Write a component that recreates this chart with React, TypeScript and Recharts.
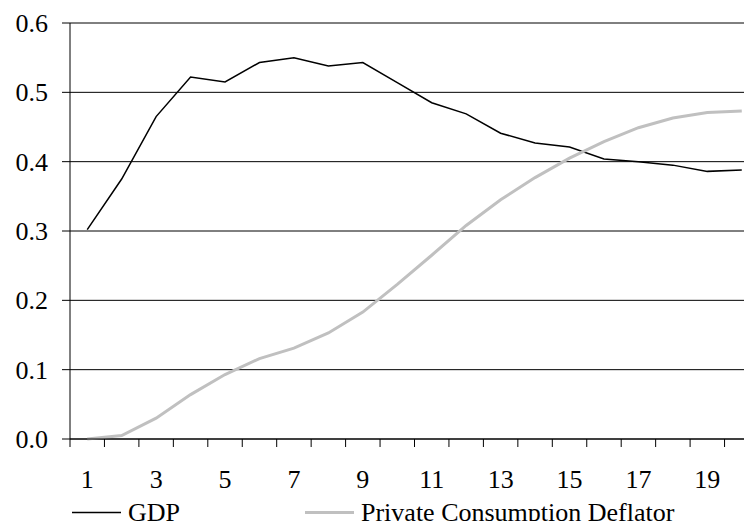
import { CartesianGrid, Legend, Line, LineChart, XAxis, YAxis } from 'recharts';

const periods = [1, 2, 3, 4, 5, 6, 7, 8, 9, 10, 11, 12, 13, 14, 15, 16, 17, 18, 19, 20];
const gdp = [
  0.302, 0.375, 0.465, 0.522, 0.515, 0.543, 0.55, 0.538, 0.543, 0.514,
  0.485, 0.469, 0.441, 0.427, 0.421, 0.404, 0.4, 0.395, 0.386, 0.388,
];
const deflator = [
  0.0, 0.005, 0.03, 0.064, 0.093, 0.116, 0.131, 0.153, 0.183, 0.223,
  0.265, 0.308, 0.345, 0.377, 0.405, 0.429, 0.449, 0.463, 0.471, 0.473,
];
const xLabels = [1, 3, 5, 7, 9, 11, 13, 15, 17, 19];
const yTicks = [0, 0.1, 0.2, 0.3, 0.4, 0.5, 0.6];

const data = periods.map((p, i) => ({ period: p, gdp: gdp[i], deflator: deflator[i] }));
// tick marks sit between categories, labels sit on them
const xTicks = [0.5, ...periods.flatMap((p) => [p, p + 0.5])];

const FONT = '"Liberation Serif", "Times New Roman", serif';
const FONT_SIZE = 26;

function XTick({ x, y, payload }: any) {
  const v = payload.value;
  if (v % 1 !== 0) {
    return <line x1={x} x2={x} y1={y} y2={y + 8} stroke="#000" />;
  }
  if (!xLabels.includes(v)) return <g />;
  return (
    <text x={x} y={y + 49} textAnchor="middle" fontFamily={FONT} fontSize={FONT_SIZE} fill="#000">
      {v}
    </text>
  );
}

function YTick({ x, y, payload }: any) {
  return (
    <text x={x} y={y + 9} textAnchor="end" fontFamily={FONT} fontSize={FONT_SIZE} fill="#000">
      {payload.value.toFixed(1)}
    </text>
  );
}

const legendX = [72, 305];

function LegendContent({ payload }: any) {
  return (
    <svg width={752} height={34} style={{ display: 'block', overflow: 'visible' }}>
      {(payload || []).map((entry: any, i: number) => (
        <g key={entry.value}>
          <line
            x1={legendX[i]}
            x2={legendX[i] + 49}
            y1={22.5}
            y2={22.5}
            stroke={entry.color}
            strokeWidth={i === 0 ? 1.5 : 3}
          />
          <text x={legendX[i] + 56} y={22.5} dy={8} fontFamily={FONT} fontSize={FONT_SIZE} fill="#000">
            {entry.value}
          </text>
        </g>
      ))}
    </svg>
  );
}

export default function App() {
  return (
    <div style={{ margin: -8, width: 752, height: 529, overflow: 'hidden', background: '#fff' }}>
      <LineChart
        width={759}
        height={529}
        data={data}
        margin={{ top: 23, right: 0, bottom: 30, left: 0 }}
      >
        <CartesianGrid horizontal vertical={false} stroke="#000" strokeWidth={1} />
        <XAxis
          dataKey="period"
          type="number"
          domain={[0.5, 20.5]}
          ticks={xTicks}
          interval={0}
          tick={<XTick />}
          tickLine={false}
          tickSize={0}
          tickMargin={0}
          height={60}
          axisLine={{ stroke: '#000' }}
        />
        <YAxis
          domain={[0, 0.6]}
          ticks={yTicks}
          interval={0}
          tick={<YTick />}
          tickSize={8}
          tickMargin={14}
          tickLine={{ stroke: '#000' }}
          axisLine={{ stroke: '#000' }}
          width={70}
        />
        <Legend
          layout="horizontal"
          verticalAlign="middle"
          align="center"
          wrapperStyle={{ position: 'absolute', top: 490, left: 0, width: 752, height: 34 }}
          content={<LegendContent />}
        />
        <Line
          type="linear"
          dataKey="gdp"
          name="GDP"
          stroke="#000"
          strokeWidth={1.5}
          dot={false}
          isAnimationActive={false}
        />
        <Line
          type="linear"
          dataKey="deflator"
          name="Private Consumption Deflator"
          stroke="#c0c0c0"
          strokeWidth={3}
          dot={false}
          isAnimationActive={false}
        />
      </LineChart>
    </div>
  );
}
